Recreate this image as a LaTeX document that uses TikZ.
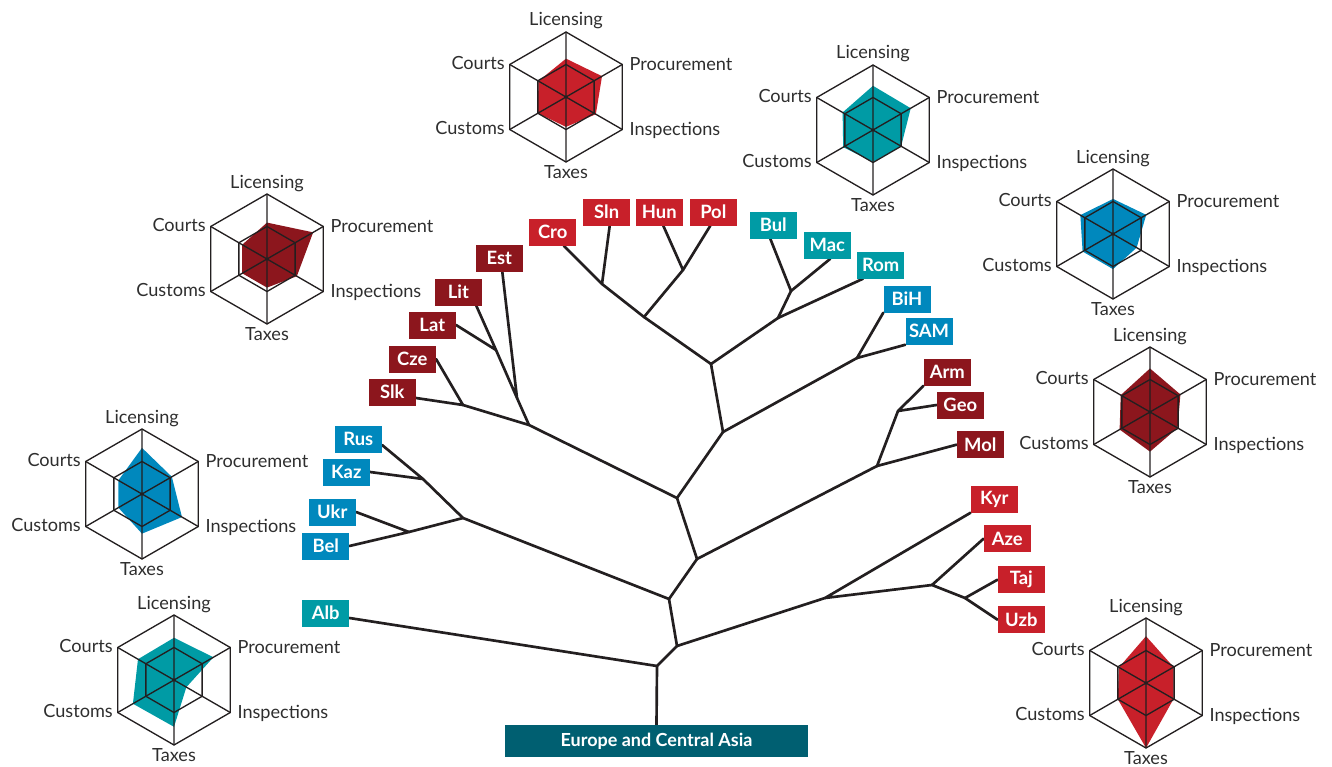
\documentclass[tikz,border=0pt]{standalone}
\usepackage{fontspec}
\setmainfont{Lato}
\usetikzlibrary{calc}

\definecolor{cred}{HTML}{C8202A}
\definecolor{cdark}{HTML}{8C161D}
\definecolor{cteal}{HTML}{009BA5}
\definecolor{cblue}{HTML}{0088BD}
\definecolor{croot}{HTML}{005F71}
\definecolor{ink}{HTML}{231F20}
\definecolor{txt}{HTML}{2E2E2E}

\pgfdeclarelayer{bg}
\pgfsetlayers{bg,main}

\tikzset{
  branch/.style={draw=ink, line width=2pt, line cap=round, line join=round},
  radargrid/.style={draw=ink, line width=1pt, line join=miter},
  ctry/.style={fill=#1, text=white, font=\bfseries\fontsize{13.8}{15}\selectfont,
    minimum width=35.25pt, minimum height=20.25pt, inner sep=0pt},
  rootbox/.style={fill=croot, text=white, font=\bfseries\fontsize{13.5}{15}\selectfont,
    minimum width=227pt, minimum height=24pt, inner sep=0pt},
  axislabel/.style={text=txt, font=\fontsize{13.6}{15}\selectfont, inner sep=0pt},
}

% hexagonal radar chart: name, centre, colour, then the six scores
% (Licensing, Procurement, Inspections, Taxes, Customs, Courts) as fractions
\newcommand\radarchart[9]{%
  \begin{scope}[shift={#2}, x=0.75pt, y=0.75pt]
    \fill[#3] (90:{#4*65}) -- (30:{#5*65}) -- (-30:{#6*65}) -- (-90:{#7*65})
      -- (210:{#8*65}) -- (150:{#9*65}) -- cycle;
    \draw[radargrid] (90:65) -- (30:65) -- (-30:65) -- (-90:65) -- (210:65) -- (150:65) -- cycle;
    \draw[radargrid] (90:32.5) -- (30:32.5) -- (-30:32.5) -- (-90:32.5) -- (210:32.5) -- (150:32.5) -- cycle;
    \draw[radargrid] (90:65) -- (-90:65) (30:65) -- (210:65) (-30:65) -- (150:65);
    \node[axislabel, anchor=base, yshift=4.5pt] (#1-lic) at (90:65) {Licensing};
    \node[axislabel, anchor=base west, xshift=5.25pt, yshift=-4.5pt] (#1-pro) at (30:65) {Procurement};
    \node[axislabel, anchor=base west, xshift=5.25pt, yshift=-4.5pt] (#1-ins) at (-30:65) {Inspections};
    \node[axislabel, anchor=base, yshift=-12.5pt] (#1-tax) at (-90:65) {Taxes};
    \node[axislabel, anchor=base east, xshift=-3.5pt, yshift=-3.75pt] (#1-cus) at (210:65) {Customs};
    \node[axislabel, anchor=base east, xshift=-3.5pt, yshift=-3.75pt] (#1-cou) at (150:65) {Courts};
  \end{scope}}

\begin{document}
\begin{tikzpicture}[x=0.75pt, y=-0.75pt]
\useasboundingbox (0,0) rectangle (1332,767);

% radar charts
\radarchart{ra}{(566,97)}{cred}{0.59}{0.64}{0.53}{0.46}{0.50}{0.49}
\radarchart{rb}{(873,130)}{cteal}{0.68}{0.67}{0.50}{0.49}{0.53}{0.54}
\radarchart{rc}{(267,259)}{cdark}{0.56}{0.82}{0.53}{0.44}{0.44}{0.44}
\radarchart{rd}{(1113,234)}{cblue}{0.54}{0.59}{0.42}{0.54}{0.54}{0.58}
\radarchart{re}{(1150,412)}{cdark}{0.67}{0.54}{0.49}{0.61}{0.54}{0.52}
\radarchart{rf}{(142,494)}{cblue}{0.71}{0.53}{0.71}{0.61}{0.42}{0.42}
\radarchart{rg}{(174,680)}{cteal}{0.65}{0.70}{0.22}{0.72}{0.73}{0.64}
\radarchart{rh}{(1146,683)}{cred}{0.72}{0.49}{0.49}{1.0}{0.50}{0.48}

% country boxes
\node[ctry=cred] (cro) at (552.7,232) {Cro};
\node[ctry=cred] (sln) at (606.7,212) {Sln};
\node[ctry=cred] (hun) at (659.3,212) {Hun};
\node[ctry=cred] (pol) at (713.3,212) {Pol};
\node[ctry=cteal] (bul) at (773.3,225) {Bul};
\node[ctry=cteal] (mac) at (827.3,245) {Mac};
\node[ctry=cteal] (rom) at (880.7,265) {Rom};
\node[ctry=cblue] (bih) at (907,299) {BiH};
\node[ctry=cblue] (sam) at (929,331) {SAM};
\node[ctry=cdark] (arm) at (947.3,372) {Arm};
\node[ctry=cdark] (geo) at (960.3,405) {Geo};
\node[ctry=cdark] (mol) at (980.3,444.7) {Mol};
\node[ctry=cred] (kyr) at (994.3,499) {Kyr};
\node[ctry=cred] (aze) at (1007.3,538.7) {Aze};
\node[ctry=cred] (taj) at (1021.3,579.7) {Taj};
\node[ctry=cred] (uzb) at (1021.3,619.7) {Uzb};
\node[ctry=cdark] (est) at (499.3,258) {Est};
\node[ctry=cdark] (lit) at (458.3,292) {Lit};
\node[ctry=cdark] (lat) at (432.3,325) {Lat};
\node[ctry=cdark] (cze) at (412.3,359) {Cze};
\node[ctry=cdark] (slk) at (392.3,392) {Slk};
\node[ctry=cblue] (rus) at (358.3,439) {Rus};
\node[ctry=cblue] (kaz) at (346.3,472) {Kaz};
\node[ctry=cblue] (ukr) at (332.3,512) {Ukr};
\node[ctry=cblue] (bel) at (325.7,546) {Bel};
\node[ctry=cteal] (alb) at (325.7,613) {Alb};
\node[rootbox] (root) at (656.5,741) {Europe and Central Asia};

% branching points of the tree
\coordinate (r0) at (657,666);
\coordinate (n1) at (677,646);
\coordinate (n2) at (669,599);
\coordinate (nca) at (825,598);
\coordinate (nca2) at (932,585);
\coordinate (nca3) at (965,598);
\coordinate (neast) at (463,518);
\coordinate (nrk) at (423,479);
\coordinate (nub) at (409,532);
\coordinate (n3) at (697,559);
\coordinate (n4) at (677,498);
\coordinate (ncauc) at (877,466);
\coordinate (nag) at (898,411);
\coordinate (nbalt) at (529,425);
\coordinate (nsc) at (463,405);
\coordinate (nbalt2) at (517,398);
\coordinate (nll) at (496,350);
\coordinate (n5) at (723,432);
\coordinate (nce) at (711,364);
\coordinate (nbalk) at (857,358);
\coordinate (ncs) at (644,317);
\coordinate (nbul) at (778,318);
\coordinate (ncrosln) at (602,284);
\coordinate (nhp) at (683,270);
\coordinate (nbm) at (791,291);

\begin{pgfonlayer}{bg}
% trunk and Central Asia
\draw[branch] (root.north) -- (r0);
\draw[branch] ($(alb.east)+(0,5)$) -- (r0) -- (n1);
\draw[branch] (n1) -- (n2);
\draw[branch] (n1) -- (nca);
\draw[branch] (kyr.south west) -- (nca) -- (nca2);
\draw[branch] (aze.west) -- (nca2) -- (nca3);
\draw[branch] (taj.west) -- (nca3) -- (uzb.west);
% Eastern Europe
\draw[branch] (n2) -- (neast);
\draw[branch] (n2) -- (n3);
\draw[branch] (neast) -- (nrk);
\draw[branch] ($(rus.east)+(0,6)$) -- (nrk) -- (kaz.east);
\draw[branch] (neast) -- (nub);
\draw[branch] (ukr.east) -- (nub) -- (bel.east);
% Caucasus
\draw[branch] (n3) -- (n4);
\draw[branch] (n3) -- (ncauc);
\draw[branch] (mol.west) -- (ncauc) -- (nag);
\draw[branch] (arm.south west) -- (nag) -- (geo.west);
% Baltics and Central Europe
\draw[branch] (n4) -- (nbalt);
\draw[branch] (n4) -- (n5);
\draw[branch] (nbalt) -- (nsc);
\draw[branch] ($(slk.east)+(0,6)$) -- (nsc) -- (cze.east);
\draw[branch] (nbalt) -- (nbalt2);
\draw[branch] ($(est.south)+(3,0)$) -- (nbalt2) -- (nll);
\draw[branch] ($(lit.south)+(18,0)$) -- (nll) -- (lat.east);
% Balkans and EU members
\draw[branch] (n5) -- (nce);
\draw[branch] (n5) -- (nbalk);
\draw[branch] (bih.south west) -- (nbalk) -- (sam.south west);
\draw[branch] (nce) -- (ncs);
\draw[branch] (nce) -- (nbul);
\draw[branch] (ncs) -- (ncrosln);
\draw[branch] (ncs) -- (nhp);
\draw[branch] ($(cro.south)+(11,0)$) -- (ncrosln) -- ($(sln.south)+(3,0)$);
\draw[branch] ($(hun.south)+(4,0)$) -- (nhp) -- ($(pol.south)+(-3,0)$);
\draw[branch] (nbul) -- (nbm);
\draw[branch] (nbul) -- ($(rom.south west)+(6,0)$);
\draw[branch] ($(bul.south)+(-3,0)$) -- (nbm) -- ($(mac.south)+(3,0)$);
\end{pgfonlayer}
\end{tikzpicture}
\end{document}
